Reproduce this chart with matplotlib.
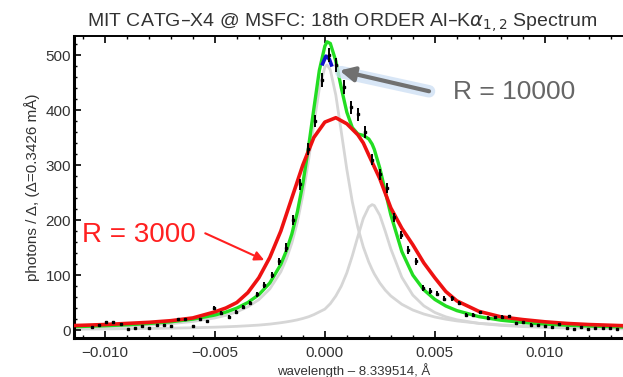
import numpy as np
import matplotlib.pyplot as plt
from matplotlib.ticker import MultipleLocator

plt.rcParams['font.family'] = ['Liberation Sans', 'DejaVu Sans']
plt.rcParams['mathtext.fontset'] = 'dejavusans'

# measured counts per bin (bin width ~ 0.33 mA on the plot)
bin_start = -0.01059
bin_step = 0.000327
counts = [5, 9, 15, 15, 11, 1, 4, 7, 4, 9, 9, 7, 20, 20, 7, 20, 16, 40, 31, 24,
          33, 42, 49, 65, 82, 100, 125, 150, 200, 265, 330, 380, 455, 500, 482, 442,
          405, 392, 360, 310, 283, 258, 205, 173, 145, 125, 76, 71, 66, 57, 58, 49,
          27, 28, 32, 22, 23, 24, 25, 12, 15, 10, 9, 8, 5, 11, 3, 1, 5, 2, 4, 4, 4, 2]

# model curves (x in mA)
curve_x = [-11.5, -10, -9, -8, -7, -6, -5, -4.5, -4, -3.5, -3, -2.5, -2, -1.75, -1.5,
           -1.25, -1, -0.75, -0.5, -0.25, 0, 0.1, 0.25, 0.5, 0.75, 1, 1.25, 1.5, 1.75,
           2, 2.15, 2.25, 2.5, 2.75, 3, 3.5, 4, 4.5, 5, 5.5, 6, 7, 8, 9, 10, 11, 12, 13.5]
line1 = [4.4, 5.8, 7.1, 9.0, 11.6, 15.6, 22.0, 26.7, 33.2, 42.2, 55.2, 74.8, 106, 129,
         158, 196, 245, 306, 374, 439, 478, 482, 473, 427, 360, 292,
         233, 186.5, 150.8, 123.3, 110.0, 102.0, 85.5, 72.4, 62.0, 46.8, 36.4, 29.1, 23.7,
         19.7, 16.6, 12.3, 9.4, 7.5, 6.0, 5.0, 4.2, 3.3]
line2 = [1.6, 2.0, 2.4, 2.9, 3.4, 4.2, 5.2, 5.9, 6.7, 7.8, 9.0, 10.8, 13.3, 14.8, 16.5,
         18.5, 21, 24, 28, 33, 38, 42, 48, 62, 80, 104, 135, 170,
         203, 224, 228, 226.3, 208.7, 179.2, 147.5, 95.9, 63.5, 44.0, 31.9, 24.0, 18.7,
         12.1, 8.5, 6.3, 4.8, 3.8, 3.1, 2.3]

r3000_x = [-11.5, -10, -9, -8, -7, -6, -5, -4.5, -4, -3.5, -3, -2.5, -2, -1.5, -1, -0.5,
           0, 0.5, 1, 1.5, 1.75, 2, 2.5, 3, 3.5, 4, 4.5, 5, 5.5, 6, 7, 8, 9, 10, 11, 12, 13.5]
r3000_y = [8, 10, 12, 14, 17, 22, 33, 40, 50, 68, 95, 132, 180, 240, 300, 350, 378, 386,
           375, 355, 340, 318, 275, 222, 185, 155, 122, 95, 70, 53, 34, 24, 19, 15, 12, 10, 8]

r10000_x = [-0.1, 0.05, 0.2, 0.3]
r10000_y = [484, 498, 493, 482]

bins = bin_start + bin_step * np.arange(len(counts))
counts = np.array(counts, dtype=float)
err = 0.6 * np.sqrt(np.maximum(counts, 4))
cx = np.array(curve_x) / 1000
total = np.array(line1) + np.array(line2)

fig = plt.figure(figsize=(6.23, 3.77), dpi=100)
ax = fig.add_axes([0.1188, 0.1034, 0.897, 0.801])

ax.plot(cx, line1, color='#d6d6d6', lw=2.0, zorder=1)
ax.plot(cx, line2, color='#d6d6d6', lw=2.0, zorder=1)
ax.plot(cx, total, color='#22dd22', lw=2.4, zorder=2)
ax.plot(np.array(r10000_x) / 1000, r10000_y, color='#1010cc', lw=2.6, zorder=3)
ax.plot(np.array(r3000_x) / 1000, r3000_y, color='#ee1111', lw=2.6, zorder=3)
ax.errorbar(bins, counts, yerr=err, fmt='s', ms=2.0, color='black', ecolor='black',
            elinewidth=1.4, capsize=0, zorder=4)

# annotations
ax.text(-0.01105, 173, 'R = 3000', color='#ff2020', fontsize=20, va='center', ha='left')
ax.annotate('', xy=(-0.00264, 125), xytext=(-0.00555, 178),
            arrowprops=dict(arrowstyle='-|>', color='#ff2020', lw=1.5, mutation_scale=14))
ax.annotate('', xy=(0.00062, 470), xytext=(0.00486, 433),
            arrowprops=dict(arrowstyle='-', color='#cfe0f4', lw=9, alpha=0.8))
ax.annotate('', xy=(0.00055, 473), xytext=(0.00486, 433),
            arrowprops=dict(arrowstyle='-|>', color='#707070', lw=3, mutation_scale=22))
ax.text(0.00582, 433, 'R = 10000', color='#666666', fontsize=19, va='center', ha='left')

ax.set_xlim(-0.0114, 0.0140)
ax.set_ylim(-14.5, 534.5)
ax.xaxis.set_major_locator(MultipleLocator(0.005))
ax.xaxis.set_minor_locator(MultipleLocator(0.001))
ax.yaxis.set_major_locator(MultipleLocator(100))
ax.yaxis.set_minor_locator(MultipleLocator(20))
ax.xaxis.set_major_formatter(plt.FuncFormatter(lambda v, p: f'{v:.3f}'.replace('-', '\u2212')))
ax.tick_params(which='both', direction='in', top=True, right=False, colors='black',
               labelcolor='#333333', labelsize=11)
ax.tick_params(which='major', length=5, width=1.2)
ax.tick_params(axis='y', pad=2)
ax.tick_params(axis='x', pad=6)
ax.tick_params(which='minor', length=2.5, width=1)
ax.spines['right'].set_visible(False)
ax.spines['left'].set_linewidth(2.2)
ax.spines['bottom'].set_linewidth(2.2)
ax.spines['top'].set_linewidth(1.4)

ax.set_title(r'MIT CATG–X4 @ MSFC: 18th ORDER Al–K$\alpha_{1,2}$ Spectrum',
             fontsize=14, color='#333333', pad=7, x=0.48)
ax.set_xlabel('wavelength – 8.339514, Å', fontsize=9.5, color='#333333', labelpad=2)
ax.set_ylabel('photons / Δ, (Δ=0.3426 mÅ)', fontsize=11, color='#333333', labelpad=4)

fig.savefig('out.png', dpi=100)
